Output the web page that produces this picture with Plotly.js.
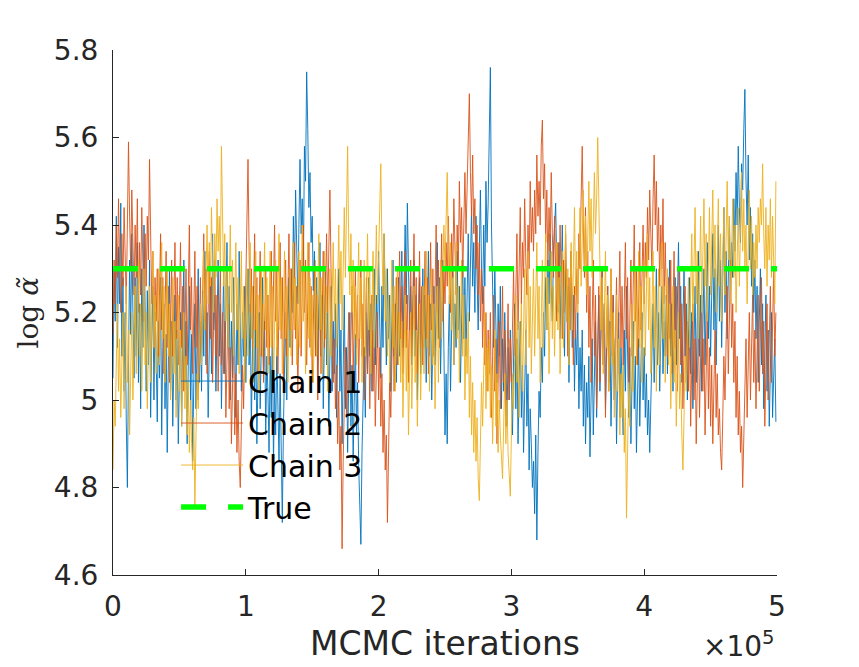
<!DOCTYPE html>
<html>
<head>
<meta charset="utf-8">
<script src="https://cdn.plot.ly/plotly-3.0.1.min.js"></script>
<style>html,body{margin:0;padding:0;background:#fff;}#chart{width:859px;height:667px;}</style>
</head>
<body>
<div id="chart"></div>
<script>
// thinning step between stored samples (iterations)
const iterStep = 833.33;

const chain1 = [
5.05,5.30,5.18,5.42,5.12,5.35,5.22,5.45,5.10,5.28,5.02,5.20,4.95,4.80,5.08,5.32,5.15,5.38,5.20,5.05,
5.28,5.10,5.36,5.04,5.22,4.98,5.30,5.12,5.40,5.18,5.02,5.25,5.08,5.32,4.96,5.14,5.26,5.00,5.20,5.10,
4.95,5.18,5.05,5.28,4.92,5.12,5.22,4.98,5.15,4.88,5.08,5.30,5.02,5.18,4.94,5.10,5.24,5.00,5.16,4.90,
5.06,5.20,4.94,5.14,5.32,5.04,5.18,4.90,5.10,5.26,5.00,5.15,4.86,5.05,5.22,4.98,5.12,5.30,5.04,5.18,
5.02,5.25,5.10,5.34,5.08,5.20,4.96,5.14,5.28,5.06,5.38,5.16,5.24,5.02,5.18,5.32,5.10,5.22,4.98,5.12,
5.30,5.06,5.20,5.36,5.12,5.26,5.00,5.18,5.05,5.28,5.14,4.96,5.22,5.08,5.34,5.16,5.02,5.20,5.10,5.26,
5.04,5.18,5.30,5.08,5.22,4.94,5.12,5.26,5.00,5.16,4.90,5.08,5.20,4.98,5.14,5.28,5.06,5.18,4.92,5.10,
5.02,4.88,5.10,4.96,5.18,4.85,5.04,4.92,5.12,4.98,4.86,5.06,4.90,4.72,4.94,5.08,5.20,5.00,5.15,5.28,
5.12,5.30,5.20,5.42,5.28,5.48,5.35,5.22,5.40,5.55,5.38,5.46,5.30,5.58,5.50,5.75,5.62,5.44,5.52,5.36,
5.42,5.25,5.34,5.12,5.28,5.05,5.22,5.36,5.10,5.24,4.98,5.16,5.30,5.08,5.20,4.94,5.12,5.26,5.02,5.18,
5.06,5.22,4.96,5.14,5.30,5.02,5.16,4.90,5.10,5.24,4.98,5.12,4.88,5.05,5.20,4.94,5.08,4.86,5.02,5.15,
4.92,5.04,4.85,4.78,4.67,4.88,5.00,5.12,4.96,5.20,5.06,5.28,5.10,5.22,5.02,5.16,5.30,5.08,5.24,5.12,
5.34,5.18,5.05,5.26,5.12,5.38,5.20,5.08,5.30,5.14,5.24,5.02,5.18,5.32,5.10,5.22,5.04,5.16,5.28,5.10,
5.20,5.34,5.12,5.28,5.40,5.22,5.45,5.30,5.16,5.26,5.08,5.20,5.32,5.10,5.24,5.00,5.14,5.28,5.06,5.18,
5.30,5.12,5.24,5.04,5.18,5.34,5.10,5.22,5.00,5.14,5.26,5.08,5.20,5.36,5.14,5.28,5.06,5.20,5.32,5.12,
4.92,5.06,4.90,5.12,5.24,5.02,5.18,5.30,5.08,5.22,5.12,5.34,5.16,5.26,5.04,5.20,5.32,5.14,5.28,5.10,
5.24,5.38,5.18,5.32,5.44,5.26,5.36,5.20,5.42,5.28,5.16,5.34,5.48,5.30,5.22,5.40,5.26,5.50,5.36,5.45,
5.58,5.76,5.40,5.28,5.12,5.30,5.18,5.04,5.22,5.10,5.26,4.98,5.14,5.02,5.20,5.08,4.94,5.12,5.00,5.16,
5.06,4.92,5.10,5.22,4.98,5.14,4.90,5.04,5.18,4.96,5.08,4.88,5.02,5.16,4.94,5.06,4.84,4.98,4.90,4.80,
4.86,4.74,4.92,4.68,4.88,5.02,4.96,5.12,5.04,5.20,5.10,5.28,5.16,5.32,5.22,5.38,5.26,5.18,5.34,5.40,
5.45,5.30,5.20,5.36,5.14,5.28,5.40,5.22,5.10,5.32,5.18,5.26,5.04,5.20,5.34,5.12,5.24,5.02,5.16,5.08,
5.20,4.98,5.12,5.02,5.16,4.94,5.08,4.90,5.04,4.96,5.10,4.87,5.00,5.14,4.92,5.06,5.18,4.96,5.10,5.24,
5.02,5.16,5.30,5.08,5.22,4.98,5.12,5.26,5.04,5.18,4.94,5.10,5.24,5.00,5.14,4.90,5.06,5.20,4.96,5.12,
5.04,4.92,5.16,5.02,5.26,5.08,4.96,5.12,4.90,5.04,5.18,4.98,5.10,4.88,5.02,5.14,4.94,5.06,5.20,5.00,
5.12,4.96,5.06,4.92,5.00,4.88,4.98,5.10,5.22,5.04,5.16,5.30,5.08,5.20,5.02,5.14,5.26,5.06,5.18,5.10,
5.24,5.06,5.18,5.32,5.10,5.22,5.02,5.16,5.28,5.08,5.20,5.36,5.14,5.26,5.04,5.18,5.30,5.10,5.22,5.00,
5.14,5.28,5.06,5.20,4.98,5.12,5.26,5.04,5.18,5.34,5.10,5.24,5.02,5.16,5.30,5.08,5.20,5.36,5.14,5.26,
5.10,5.24,5.38,5.16,5.30,5.08,5.22,5.40,5.18,5.32,5.12,5.28,5.44,5.20,5.34,5.14,5.30,5.42,5.24,5.36,
5.28,5.46,5.34,5.52,5.40,5.58,5.44,5.36,5.54,5.48,5.62,5.71,5.50,5.40,5.56,5.32,5.44,5.26,5.38,5.20,
5.32,5.14,5.26,5.04,5.18,5.30,5.08,5.22,4.98,5.12,5.24,5.02,5.16,4.94,5.10,5.20,4.96,5.08,5.14,4.95
];

const chain2 = [
5.15,5.32,5.22,5.40,5.28,5.46,5.30,5.20,5.38,5.26,5.44,5.32,5.22,5.40,5.59,5.42,5.30,5.48,5.34,5.24,
5.40,5.28,5.46,5.20,5.36,5.24,5.44,5.30,5.18,5.38,5.26,5.42,5.32,5.55,5.36,5.22,5.34,5.12,5.28,5.18,
5.30,5.10,5.24,5.38,5.16,5.28,5.06,5.20,5.34,5.12,5.26,5.04,5.18,5.32,5.10,5.22,5.36,5.14,5.28,5.08,
5.22,5.36,5.12,5.26,5.02,5.18,5.30,5.08,5.24,5.40,5.16,5.28,5.06,5.20,5.34,5.12,5.26,5.00,5.14,5.28,
5.10,5.24,5.38,5.18,5.30,5.06,5.22,5.34,5.14,5.28,5.04,5.18,5.32,5.10,5.24,5.02,5.16,5.30,5.08,5.20,
5.06,5.18,4.96,5.10,5.22,4.98,5.12,4.90,5.04,5.16,4.92,5.06,4.88,5.00,4.86,4.80,4.94,5.08,4.98,5.12,
5.26,5.40,5.55,5.34,5.20,5.30,5.12,5.24,5.38,5.16,5.28,5.06,5.20,5.34,5.10,5.22,5.04,5.18,5.30,5.12,
5.24,5.08,5.20,5.34,5.12,5.26,5.40,5.18,5.30,5.06,5.22,5.36,5.14,5.28,5.04,5.18,5.32,5.10,5.24,5.38,
5.16,5.30,5.08,5.22,5.36,5.14,5.26,5.02,5.18,5.32,5.10,5.24,5.40,5.20,5.32,5.08,5.22,5.36,5.12,5.26,
5.04,5.18,5.30,5.10,5.24,5.00,5.14,5.28,5.06,5.20,5.34,5.12,5.26,5.38,5.20,5.32,5.48,5.30,5.16,5.04,
5.14,4.98,5.08,4.90,5.02,4.84,4.94,4.66,4.86,5.00,5.12,4.96,5.08,5.20,5.02,5.14,5.26,5.06,5.18,5.30,
5.12,5.24,5.04,5.18,5.32,5.10,5.22,5.00,5.14,5.28,5.06,5.20,4.98,5.12,5.24,5.02,5.16,4.94,5.08,5.20,
5.00,5.12,4.94,5.06,4.88,5.00,4.84,4.92,4.72,4.90,5.04,4.96,5.10,5.22,5.02,5.16,5.28,5.08,5.20,5.34,
5.14,5.26,5.06,5.20,5.34,5.12,5.24,5.04,5.18,5.32,5.10,5.22,5.38,5.16,5.28,5.06,5.20,5.34,5.12,5.26,
5.08,5.20,5.34,5.14,5.28,5.06,5.22,5.36,5.16,5.30,5.10,5.24,5.40,5.20,5.32,5.12,5.26,5.38,5.18,5.30,
5.22,5.36,5.26,5.42,5.30,5.20,5.38,5.28,5.46,5.32,5.24,5.40,5.30,5.50,5.36,5.44,5.28,5.40,5.52,5.38,
5.48,5.60,5.70,5.52,5.42,5.56,5.38,5.46,5.30,5.40,5.24,5.36,5.18,5.30,5.12,5.26,5.08,5.20,5.02,5.16,
5.06,5.20,4.96,5.10,5.24,5.02,5.14,4.90,5.06,5.18,4.98,5.12,5.26,5.04,5.16,4.94,5.08,5.22,5.00,5.14,
5.04,5.18,5.30,5.10,5.24,5.38,5.16,5.30,5.44,5.22,5.36,5.28,5.46,5.32,5.24,5.40,5.30,5.50,5.36,5.44,
5.34,5.48,5.38,5.56,5.42,5.50,5.40,5.58,5.64,5.46,5.54,5.36,5.48,5.30,5.44,5.34,5.52,5.38,5.28,5.42,
5.30,5.18,5.36,5.22,5.40,5.26,5.14,5.32,5.20,5.38,5.24,5.10,5.28,5.16,5.34,5.20,5.08,5.26,5.14,5.30,
5.22,5.38,5.30,5.46,5.58,5.40,5.28,5.44,5.20,5.34,5.12,5.26,5.04,5.18,5.32,5.10,5.24,4.98,5.12,5.26,
5.04,5.18,5.30,5.08,5.22,4.96,5.12,5.26,5.02,5.16,5.30,5.10,5.24,5.00,5.14,5.28,5.06,5.20,5.34,5.12,
5.26,5.08,5.20,5.36,5.14,5.28,5.04,5.18,5.32,5.10,5.24,5.40,5.18,5.30,5.08,5.22,5.36,5.16,5.28,5.40,
5.22,5.36,5.28,5.44,5.32,5.48,5.38,5.30,5.46,5.56,5.40,5.50,5.34,5.44,5.26,5.40,5.30,5.46,5.22,5.36,
5.24,5.10,5.28,5.14,5.32,5.06,5.20,5.34,5.12,5.26,5.02,5.16,5.30,5.08,5.22,4.98,5.12,5.26,5.04,5.18,
5.02,5.16,4.94,5.08,5.22,5.00,5.14,4.90,5.04,5.18,4.96,5.10,5.24,5.02,5.14,4.92,5.06,5.20,4.98,5.12,
4.94,5.08,4.90,5.04,5.16,4.96,5.06,4.92,4.98,4.88,4.84,4.96,5.10,5.00,5.14,5.26,5.06,5.20,5.32,5.12,
5.22,5.04,5.18,4.96,5.10,4.92,5.02,4.88,4.94,4.80,4.90,5.02,5.14,4.96,5.08,5.20,5.00,5.12,5.24,5.04,
5.16,4.98,5.10,5.24,5.02,5.14,5.28,5.06,5.18,4.94,5.08,5.22,5.00,5.12,5.26,5.04,5.16,5.30,5.10,5.20
];

const chain3 = [
4.84,5.00,4.94,5.10,5.22,5.02,5.14,4.96,5.08,5.20,4.98,5.12,5.26,5.04,5.16,4.92,5.06,5.20,5.00,5.14,
5.26,5.06,5.18,5.32,5.10,5.22,5.02,5.16,5.30,5.08,5.20,4.98,5.12,5.26,5.04,5.18,5.34,5.12,5.24,5.06,
5.18,5.30,5.08,5.22,5.36,5.14,5.26,5.04,5.18,5.30,5.10,5.22,5.00,5.14,5.28,5.06,5.18,4.96,5.10,5.24,
5.02,5.16,4.94,5.08,5.20,4.98,5.10,4.92,5.04,4.88,5.00,4.90,4.84,4.96,4.76,4.92,5.06,4.98,5.12,5.22,
5.08,5.24,5.34,5.16,5.30,5.40,5.22,5.36,5.26,5.44,5.30,5.20,5.38,5.28,5.46,5.34,5.42,5.30,5.58,5.40,
5.26,5.38,5.18,5.30,5.12,5.26,5.40,5.20,5.32,5.10,5.24,5.36,5.16,5.28,5.06,5.20,5.34,5.14,5.26,5.04,
5.18,5.30,5.10,5.24,5.36,5.14,5.26,5.04,5.20,5.34,5.12,5.24,5.02,5.16,5.30,5.10,5.22,5.36,5.16,5.28,
5.06,5.20,5.34,5.12,5.26,5.02,5.18,5.32,5.10,5.24,5.38,5.16,5.28,5.06,5.20,5.34,5.14,5.26,5.04,5.18,
5.30,5.10,5.22,5.36,5.16,5.28,5.08,5.20,5.34,5.12,5.26,5.40,5.18,5.30,5.06,5.22,5.36,5.14,5.28,5.10,
5.24,5.04,5.18,5.32,5.10,5.22,5.38,5.16,5.28,5.06,5.20,5.34,5.14,5.26,5.02,5.16,5.30,5.10,5.24,5.36,
5.18,5.30,5.12,5.26,5.40,5.22,5.34,5.16,5.30,5.44,5.28,5.40,5.58,5.36,5.24,5.38,5.20,5.32,5.14,5.26,
5.08,5.22,5.36,5.14,5.28,5.04,5.18,5.32,5.10,5.24,5.38,5.16,5.30,5.06,5.20,5.34,5.12,5.26,5.40,5.22,
5.34,5.44,5.54,5.36,5.24,5.38,5.18,5.30,5.10,5.24,5.04,5.18,5.32,5.12,5.26,5.02,5.16,5.30,5.08,5.20,
5.04,5.18,4.96,5.10,5.24,5.02,5.16,4.92,5.06,5.20,4.98,5.12,5.26,5.04,5.16,4.94,5.08,5.22,5.00,5.14,
5.26,5.06,5.20,5.34,5.12,5.24,5.02,5.16,5.30,5.08,5.22,4.98,5.12,5.26,5.04,5.18,5.32,5.14,5.28,5.40,
5.30,5.42,5.52,5.34,5.22,5.36,5.16,5.28,5.08,5.22,5.36,5.14,5.26,5.04,5.18,5.32,5.10,5.24,5.00,5.14,
5.06,5.20,4.96,5.10,4.92,5.04,4.88,5.00,4.86,4.96,4.82,4.77,4.90,5.04,4.94,5.08,5.20,4.98,5.12,5.02,
5.14,4.96,5.08,4.90,5.02,5.16,4.94,5.06,4.88,5.00,4.92,4.86,4.82,4.94,5.06,4.90,5.00,4.88,4.84,4.78,
4.92,5.06,4.98,5.12,5.24,5.04,5.18,4.96,5.10,5.22,5.02,5.16,5.30,5.08,5.20,5.34,5.12,5.26,5.06,5.18,
5.30,5.10,5.22,5.36,5.14,5.26,5.04,5.18,5.32,5.12,5.24,5.38,5.16,5.28,5.06,5.20,5.34,5.14,5.26,5.10,
5.22,5.36,5.16,5.28,5.06,5.20,5.34,5.12,5.24,5.40,5.18,5.30,5.08,5.22,5.36,5.16,5.28,5.44,5.24,5.34,
5.20,5.32,5.44,5.26,5.38,5.48,5.30,5.42,5.24,5.36,5.50,5.34,5.46,5.28,5.40,5.52,5.38,5.46,5.60,5.42,
5.30,5.16,5.28,5.06,5.20,5.34,5.12,5.24,5.02,5.16,5.30,5.08,5.20,4.96,5.10,5.24,5.02,5.14,4.92,5.06,
4.96,5.08,4.88,4.98,4.73,4.90,5.04,4.94,5.10,5.22,5.02,5.16,5.30,5.08,5.20,5.34,5.12,5.26,5.04,5.18,
5.32,5.10,5.24,5.38,5.16,5.28,5.06,5.20,5.34,5.12,5.26,5.02,5.16,5.30,5.08,5.22,5.36,5.14,5.26,5.04,
5.18,5.30,5.08,5.22,4.98,5.12,5.26,5.04,5.16,4.94,5.08,5.20,4.98,5.06,4.92,4.84,4.96,5.10,5.02,5.16,
5.28,5.12,5.24,5.38,5.18,5.30,5.44,5.22,5.34,5.14,5.28,5.42,5.20,5.32,5.46,5.26,5.38,5.18,5.30,5.44,
5.24,5.36,5.48,5.28,5.40,5.20,5.34,5.46,5.26,5.38,5.18,5.30,5.44,5.24,5.36,5.50,5.32,5.42,5.22,5.34,
5.46,5.28,5.40,5.20,5.32,5.44,5.26,5.38,5.52,5.34,5.46,5.30,5.40,5.22,5.36,5.48,5.30,5.42,5.24,5.36,
5.28,5.40,5.30,5.44,5.36,5.46,5.40,5.54,5.38,5.30,5.44,5.26,5.40,5.32,5.46,5.28,5.42,5.34,5.22,5.50
];

const trueValue = 5.3;
const xRange = [0, 500000];
const xTickVals = [0, 100000, 200000, 300000, 400000, 500000];
const xTickText = ['0', '1', '2', '3', '4', '5'];
const yTickVals = [4.6, 4.8, 5.0, 5.2, 5.4, 5.6, 5.8];
const yTickText = ['4.6', '4.8', '5', '5.2', '5.4', '5.6', '5.8'];
const seriesNames = ['Chain 1', 'Chain 2', 'Chain 3', 'True'];
const colors = ['#0072BD', '#D95319', '#EDB120', '#00FF00'];

const iters = chain1.map((_, i) => i * iterStep);

const font = "'DejaVu Sans', sans-serif";
const textColor = '#262626';

const traces = [chain1, chain2, chain3].map((c, k) => ({
  x: iters, y: c, type: 'scatter', mode: 'lines', name: seriesNames[k],
  line: {color: colors[k], width: 1}, opacity: 0.9
}));
traces.push({
  x: xRange, y: [trueValue, trueValue], type: 'scatter', mode: 'lines', name: seriesNames[3],
  line: {color: colors[3], width: 5.5, dash: '25px,22px'}
});

const layout = {
  width: 859, height: 667,
  margin: {l: 113, r: 82, t: 50, b: 92},
  paper_bgcolor: '#fff', plot_bgcolor: '#fff',
  font: {family: font, color: textColor, size: 28},
  showlegend: true,
  legend: {
    x: 0.095, y: 0.419, xanchor: 'left', yanchor: 'top',
    bgcolor: 'rgba(0,0,0,0)', borderwidth: 0,
    font: {family: font, size: 30, color: '#000'},
    itemwidth: 62, tracegroupgap: 0
  },
  xaxis: {
    range: xRange, tickvals: xTickVals, ticktext: xTickText,
    showline: true, linecolor: textColor, linewidth: 1,
    ticks: 'inside', ticklen: 6, tickcolor: textColor,
    showgrid: false, zeroline: false,
    tickfont: {family: font, size: 28, color: textColor},
    ticklabelstandoff: 6,
    title: {text: 'MCMC iterations', font: {family: font, size: 33, color: textColor}, standoff: 10}
  },
  yaxis: {
    range: [4.6, 5.8], tickvals: yTickVals, ticktext: yTickText,
    showline: true, linecolor: textColor, linewidth: 1,
    ticks: 'inside', ticklen: 6, tickcolor: textColor,
    showgrid: false, zeroline: false,
    tickfont: {family: font, size: 28, color: textColor},
    ticklabelstandoff: 8
  },
  annotations: [
    {text: 'log <i>α̃</i>', xref: 'paper', yref: 'paper', x: -0.128, y: 0.5,
     xanchor: 'center', yanchor: 'middle', textangle: -90, showarrow: false,
     font: {family: "'DejaVu Serif', 'Liberation Serif', serif", size: 28, color: textColor}},
    {text: '×10<sup>5</sup>', xref: 'paper', yref: 'paper', x: 1.0, y: -0.133,
     xanchor: 'right', yanchor: 'middle', showarrow: false,
     font: {family: font, size: 28, color: textColor}}
  ]
};

Plotly.newPlot('chart', traces, layout, {displayModeBar: false, staticPlot: true});
</script>
</body>
</html>
